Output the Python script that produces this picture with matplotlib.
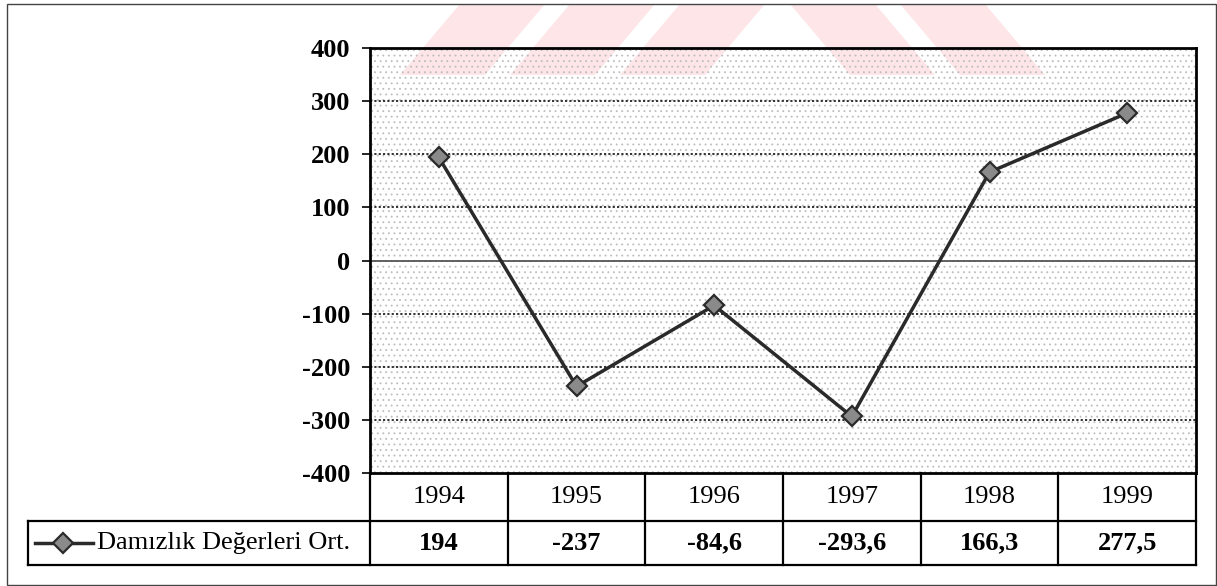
import matplotlib
matplotlib.use('Agg')
import matplotlib.pyplot as plt
from matplotlib.patches import Polygon, Rectangle
from matplotlib.lines import Line2D
from matplotlib.transforms import blended_transform_factory
import numpy as np

# ---- data ----
years = ['1994', '1995', '1996', '1997', '1998', '1999']
values = [194, -237, -84.6, -293.6, 166.3, 277.5]
series_name = 'Damızlık Değerleri Ort.'
yticks = [-400, -300, -200, -100, 0, 100, 200, 300, 400]


def fmt(v):
    s = ('%g' % v)
    return s.replace('.', ',')


plt.rcParams['font.family'] = ['Liberation Serif', 'DejaVu Serif']
plt.rcParams['hatch.linewidth'] = 0.6

W, H = 1217, 586
fig = plt.figure(figsize=(W / 100, H / 100), dpi=100)


def fx(px):
    return px / W


def fy(py):
    return 1 - py / H


# watermark (faint)
wm_color = '#fde5e8'
stripes = [
    [(400, 75), (485, 75), (545, 4), (460, 4)],
    [(510, 75), (595, 75), (655, 4), (570, 4)],
    [(620, 75), (705, 75), (765, 4), (680, 4)],
    [(790, 4), (875, 4), (935, 75), (850, 75)],
    [(900, 4), (985, 4), (1045, 75), (960, 75)],
]
for s in stripes:
    fig.add_artist(Polygon([(fx(a), fy(b)) for a, b in s], closed=True,
                           facecolor=wm_color, edgecolor='none', zorder=-5,
                           transform=fig.transFigure))

L, R, T, B = 370, 1196, 48, 473
ax = fig.add_axes([fx(L), fy(B), fx(R) - fx(L), fy(T) - fy(B)])
ax.patch.set_facecolor('none')
x = np.arange(len(years))
ax.set_xlim(-0.5, len(years) - 0.5)
ax.set_ylim(yticks[0], yticks[-1])

# dotted background pattern
ax.add_patch(Rectangle((0, 0), 1, 1, transform=ax.transAxes, facecolor='none',
                       edgecolor='#bdbdbd', hatch='...', lw=0, zorder=0))

for t in yticks[1:-1]:
    if t == 0:
        ax.axhline(t, color='#555555', lw=1.3, zorder=1)
    else:
        ax.axhline(t, color='#222222', lw=1.3, ls=(0, (1.2, 1.2)), zorder=1)

ax.plot(x, values, color='#2a2a2a', lw=2.5, marker='D', ms=10,
        mfc='#8a8a8a', mec='#2a2a2a', mew=1.6, zorder=5, clip_on=False)

for sp in ax.spines.values():
    sp.set_color('black')
    sp.set_linewidth(2)

ax.set_xticks([])
ax.set_yticks(yticks)
ax.set_yticklabels([str(t) for t in yticks], fontsize=19, fontweight='bold')
ax.tick_params(axis='y', direction='out', length=6, width=1.2, pad=8)

# ---- data table ----
trans = blended_transform_factory(ax.transData, fig.transFigure)
row1_top, row1_bot, row2_bot = 473, 521, 565
lc = 'black'
lw = 1.6
for i in range(len(years) + 1):
    xi = i - 0.5
    fig.add_artist(Line2D([xi, xi], [fy(row1_top), fy(row2_bot)], transform=trans,
                          color=lc, lw=lw))
for yy in (row1_bot, row2_bot):
    fig.add_artist(Line2D([fx(28), fx(R)], [fy(yy), fy(yy)], transform=fig.transFigure,
                          color=lc, lw=lw))
fig.add_artist(Line2D([fx(28), fx(28)], [fy(row1_bot), fy(row2_bot)],
                      transform=fig.transFigure, color=lc, lw=lw))

for i, (yr, v) in enumerate(zip(years, values)):
    fig.text(i, fy((row1_top + row1_bot) / 2), yr, transform=trans, ha='center',
             va='center', fontsize=19)
    fig.text(i, fy((row1_bot + row2_bot) / 2), fmt(v), transform=trans, ha='center',
             va='center', fontsize=19, fontweight='bold')

ymid = fy((row1_bot + row2_bot) / 2)
fig.add_artist(Line2D([fx(35), fx(93)], [ymid, ymid], transform=fig.transFigure,
                      color='#2a2a2a', lw=2.5))
fig.add_artist(Line2D([fx(63)], [ymid], transform=fig.transFigure, marker='D', ms=10,
                      mfc='#8a8a8a', mec='#2a2a2a', mew=1.6, lw=0))
fig.text(fx(97), ymid, series_name, ha='left', va='center', fontsize=19)

# outer frame
fig.add_artist(Rectangle((fx(7), fy(585)), fx(1216) - fx(7), fy(4) - fy(585),
                         transform=fig.transFigure, facecolor='none',
                         edgecolor='#444444', lw=1))

fig.savefig('out.png', dpi=100)
